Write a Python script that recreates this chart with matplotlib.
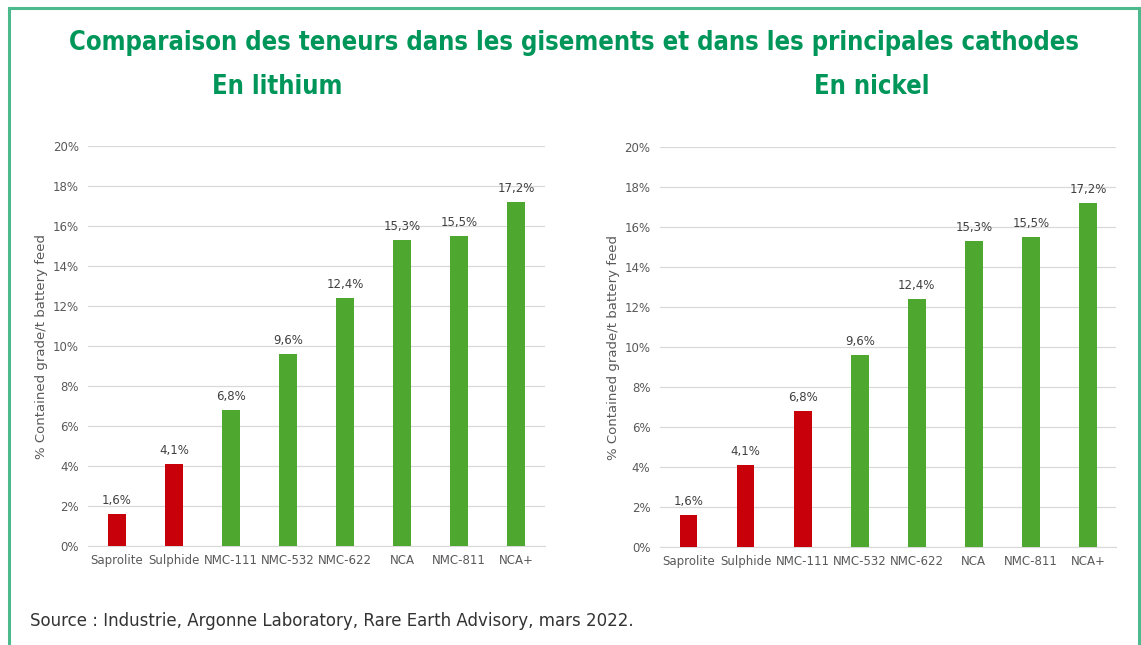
import numpy as np
import matplotlib.pyplot as plt

# Teneurs (% contained grade / t battery feed)
categories = ['Saprolite', 'Sulphide', 'NMC-111', 'NMC-532', 'NMC-622',
              'NCA', 'NMC-811', 'NCA+']
lithium = [1.6, 4.1, 6.8, 9.6, 12.4, 15.3, 15.5, 17.2]
nickel = [1.6, 4.1, 6.8, 9.6, 12.4, 15.3, 15.5, 17.2]
n_red_lithium = 2
n_red_nickel = 3

RED = '#c8000a'
GREEN = '#4ea72e'
TITLE_GREEN = '#00965a'
FRAME = '#4dba8e'

fig = plt.figure(figsize=(11.41, 6.45), dpi=100)

# cadre vert (haut, gauche, droite)
fig.add_artist(plt.Line2D([0.0075, 0.0075], [0, 0.9875], color=FRAME, lw=2.2,
                          transform=fig.transFigure))
fig.add_artist(plt.Line2D([0.0075, 0.998], [0.9875, 0.9875], color=FRAME, lw=2.2,
                          transform=fig.transFigure))
fig.add_artist(plt.Line2D([0.998, 0.998], [0, 0.9875], color=FRAME, lw=2.2,
                          transform=fig.transFigure))

title_kw = dict(ha='center', va='center', fontsize=18.4, fontweight='bold',
                fontstretch='condensed', color=TITLE_GREEN, family='DejaVu Sans')
fig.text(0.503, 0.933, 'Comparaison des teneurs dans les gisements et dans les principales cathodes',
         **title_kw)
fig.text(0.243, 0.865, 'En lithium', **title_kw)
fig.text(0.764, 0.865, 'En nickel', **title_kw)

fig.text(0.026, 0.037, 'Source : Industrie, Argonne Laboratory, Rare Earth Advisory, mars 2022.',
         ha='left', va='center', fontsize=12, color='#333333')


def draw_panel(rect, values, n_red):
    ax = fig.add_axes(rect)
    x = np.arange(len(categories))
    colors = [RED] * n_red + [GREEN] * (len(values) - n_red)
    ax.bar(x, values, width=0.31, color=colors, zorder=3)
    for xi, v in zip(x, values):
        ax.text(xi, v + 0.35, f'{v:.1f}%'.replace('.', ','), ha='center', va='bottom',
                fontsize=8.5, color='#404040')
    ax.set_xlim(-0.5, len(categories) - 0.5)
    ax.set_ylim(0, 20)
    ax.set_yticks(np.arange(0, 21, 2))
    ax.set_yticklabels([f'{t}%' for t in range(0, 21, 2)])
    ax.set_xticks(x)
    ax.set_xticklabels(categories)
    ax.grid(axis='y', color='#d9d9d9', lw=0.9, zorder=0)
    for s in ['top', 'right', 'left']:
        ax.spines[s].set_visible(False)
    ax.spines['bottom'].set_color('#d9d9d9')
    ax.tick_params(axis='both', length=0, labelsize=8.5, colors='#595959')
    ax.tick_params(axis='y', pad=7)
    ax.tick_params(axis='x', pad=6)
    ax.set_ylabel('% Contained grade/t battery feed', fontsize=9.5, color='#595959',
                  labelpad=3)
    return ax


draw_panel([0.0775, 0.1535, 0.400, 0.620], lithium, n_red_lithium)
draw_panel([0.5785, 0.152, 0.400, 0.620], nickel, n_red_nickel)

plt.savefig('out.png', dpi=100)
